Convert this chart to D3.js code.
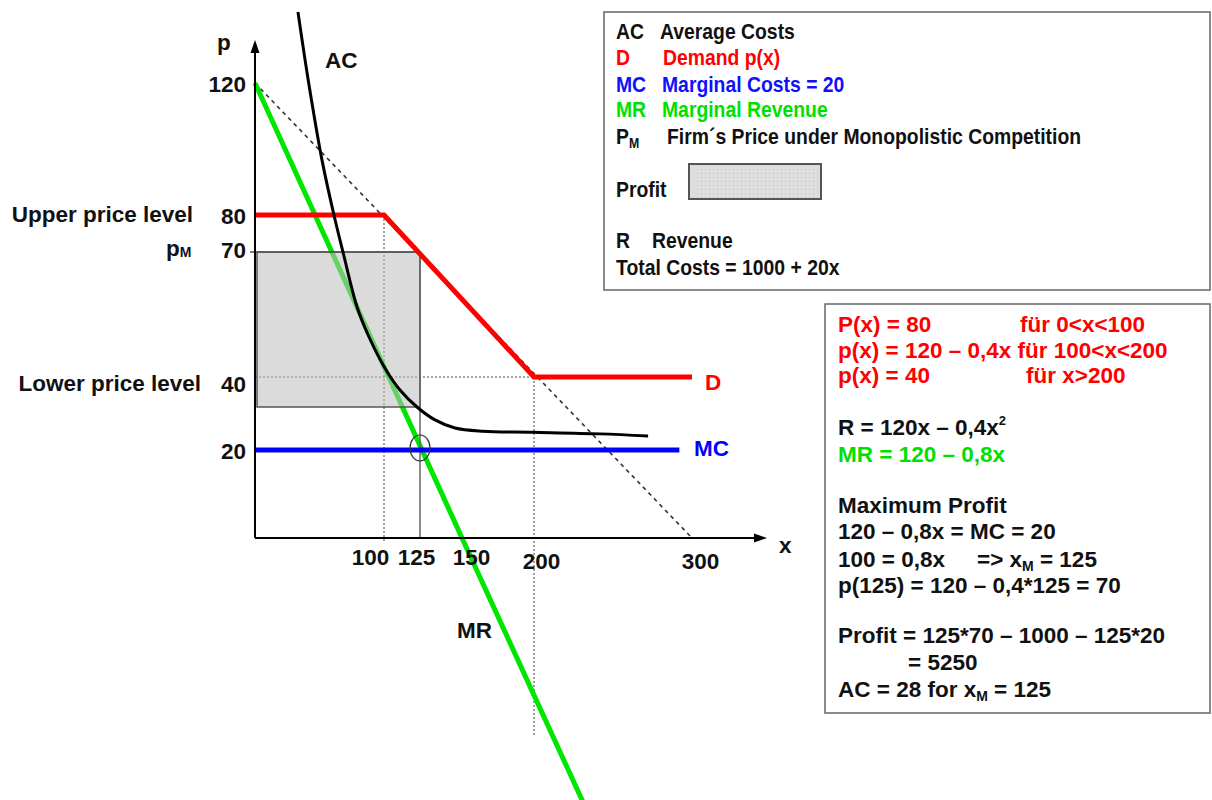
<!DOCTYPE html>
<html><head><meta charset="utf-8">
<script src="https://cdn.jsdelivr.net/npm/d3@7"></script>
<style>
body{margin:0;background:#fff}
svg{display:block}
text{font-family:"Liberation Sans",Arial,sans-serif;font-weight:bold}
</style></head><body>
<svg id="c" width="1212" height="800"></svg>
<script>
// ---------- data ----------
const xTicks = [100, 125, 150, 200, 300];
const yTicks = [20, 40, 70, 80, 120];
const demand = [[0, 80], [100, 80], [200, 40], [300, 40]];
const inverseDemand = [[0, 120], [300, 0]];
const marginalRevenue = [[0, 120], [150, 0], [231, -60]];
const marginalCost = [[0, 20], [292, 20]];
const averageCost = [[33.3, 141.5], [38.8, 127], [43.8, 114.8], [51.9, 96.7], [61.2, 80], [68.2, 70],
  [79.1, 56.8], [88.4, 49.6], [101.4, 41.7], [111.1, 34.8], [122.9, 28], [133.9, 25.6], [145.8, 24.1],
  [164.6, 23.5], [199.3, 23.3], [241.8, 23.0], [272.2, 22.6]];
const xM = 125, pM = 70, acM = 28, mc = 20;
const upperPrice = 80, lowerPrice = 40, upperKinkX = 100, lowerKinkX = 200, dropEnd = -45;
const legendKeys = ["AC", "D", "MC", "MR", "P"];
const legendTexts = ["Average Costs", "Demand p(x)", "Marginal Costs = 20", "Marginal Revenue", "Firm´s  Price under Monopolistic Competition"];

// ---------- scales (schematic, piecewise) ----------
const x = d3.scaleLinear().domain([0, 100, 125, 150, 200, 300]).range([255, 384, 420, 462, 534, 692]);
const y = d3.scaleLinear().domain([0, 20, 28, 40, 70, 80, 120]).range([538, 450, 407, 377, 252, 215, 83]);

const svg = d3.select("#c");
const line = d3.line().x(d => x(d[0])).y(d => y(d[1]));
const FS = 22.5;

svg.append("defs").append("pattern").attr("id", "dots").attr("width", 4).attr("height", 4)
  .attr("patternUnits", "userSpaceOnUse")
  .call(p => {
    p.append("rect").attr("width", 4).attr("height", 4).attr("fill", "#dedede");
    p.append("rect").attr("x", 1).attr("y", 1).attr("width", 1).attr("height", 1).attr("fill", "#c4c4c4");
  });

// dotted guide lines
const g = svg.append("g");
g.append("line").attr("x1", x(upperKinkX)).attr("x2", x(upperKinkX)).attr("y1", y(upperPrice)).attr("y2", y(0) + 4)
  .attr("stroke", "#444").attr("stroke-width", 1).attr("stroke-dasharray", "2,2");
g.append("line").attr("x1", x(lowerKinkX)).attr("x2", x(lowerKinkX)).attr("y1", y(lowerPrice)).attr("y2", y(dropEnd))
  .attr("stroke", "#444").attr("stroke-width", 1).attr("stroke-dasharray", "2,2");
g.append("line").attr("x1", x(0)).attr("x2", x(lowerKinkX)).attr("y1", y(lowerPrice)).attr("y2", y(lowerPrice))
  .attr("stroke", "#444").attr("stroke-width", 1).attr("stroke-dasharray", "2,2");

// inverse demand dashed
g.append("path").attr("d", line(inverseDemand)).attr("fill", "none").attr("stroke", "#333")
  .attr("stroke-width", 1.6).attr("stroke-dasharray", "4,4");

// MR
g.append("path").attr("d", line(marginalRevenue)).attr("fill", "none").attr("stroke", "#00e600").attr("stroke-width", 5);

// profit box
g.append("rect").attr("x", x(0) + 2).attr("y", y(pM)).attr("width", x(xM) - x(0) - 2).attr("height", y(acM) - y(pM))
  .attr("fill", "#bdbdbd").attr("fill-opacity", 0.55).attr("stroke", "#555").attr("stroke-width", 1.5);
g.append("line").attr("x1", x(0) - 5).attr("x2", x(xM)).attr("y1", y(pM)).attr("y2", y(pM)).attr("stroke", "#555").attr("stroke-width", 1.5);
g.append("line").attr("x1", x(xM)).attr("x2", x(xM)).attr("y1", y(pM)).attr("y2", y(0)).attr("stroke", "#666").attr("stroke-width", 1.5);

// demand
g.append("path").attr("d", line(demand)).attr("fill", "none").attr("stroke", "#ff0000").attr("stroke-width", 5);
// MC
g.append("path").attr("d", line(marginalCost)).attr("fill", "none").attr("stroke", "#0000ff").attr("stroke-width", 5);
// AC
g.append("path").attr("d", d3.line().x(d => x(d[0])).y(d => y(d[1])).curve(d3.curveCatmullRom.alpha(0.5))(averageCost))
  .attr("fill", "none").attr("stroke", "#000").attr("stroke-width", 3);

// ellipse at optimum
g.append("ellipse").attr("cx", x(xM)).attr("cy", y(mc) - 2).attr("rx", 10).attr("ry", 13)
  .attr("fill", "none").attr("stroke", "#333").attr("stroke-width", 1.2);

// axes
g.append("line").attr("x1", x(0)).attr("x2", x(0)).attr("y1", y(0)).attr("y2", 50).attr("stroke", "#000").attr("stroke-width", 2);
g.append("path").attr("d", `M${x(0)},40 L${x(0) - 4.5},53 L${x(0) + 4.5},53 Z`).attr("fill", "#000");
g.append("line").attr("x1", x(0)).attr("x2", 756).attr("y1", y(0)).attr("y2", y(0)).attr("stroke", "#000").attr("stroke-width", 2);
g.append("path").attr("d", `M767,${y(0)} L754,${y(0) - 4.5} L754,${y(0) + 4.5} Z`).attr("fill", "#000");

// tick labels
const yShift = {40: 6, 70: -3};
const yAx = svg.append("g").attr("transform", `translate(${x(0) - 9},0)`)
  .call(d3.axisLeft(y).tickValues(yTicks).tickSize(0).tickPadding(0));
yAx.select(".domain").remove();
yAx.selectAll("text").attr("font-size", FS).attr("font-family", null).attr("fill", "#111").attr("dy", "0.36em")
  .attr("y", d => yShift[d] || 0);
const xShift = {100: -14, 125: -4, 150: 9, 200: 7, 300: 8};
const xDrop = {200: 4, 300: 4};
const xAx = svg.append("g").attr("transform", `translate(0,${y(0) + 8})`)
  .call(d3.axisBottom(x).tickValues(xTicks).tickSize(0).tickPadding(0));
xAx.select(".domain").remove();
xAx.selectAll("text").attr("font-size", FS).attr("font-family", null).attr("fill", "#111").attr("dy", "0.85em")
  .attr("x", d => xShift[d] || 0).attr("y", d => xDrop[d] || 0);

function txt(px, py, s, color, anchor) {
  return svg.append("text").attr("x", px).attr("y", py).attr("font-size", FS)
    .attr("fill", color || "#111").attr("text-anchor", anchor || "start").text(s);
}
function ctxt(px, py, s, color) {
  return svg.append("text").attr("transform", `translate(${px},${py}) scale(0.88,1)`).attr("font-size", 22)
    .attr("fill", color || "#111").text(s);
}
txt(217, 50, "p");
txt(779, 553, "x");
txt(325, 68, "AC");
txt(457, 638, "MR");
txt(705, 390, "D", "#ff0000");
txt(694, 456, "MC", "#0000ff");
txt(193, y(upperPrice) + 7, "Upper price level", null, "end");
txt(201, y(lowerPrice) + 14, "Lower price level", null, "end");
const pm = txt(166, y(pM) + 4, "p");
pm.append("tspan").attr("font-size", 14).attr("dy", 1).text("M");

// legend box 1
svg.append("rect").attr("x", 604).attr("y", 12).attr("width", 606).attr("height", 278)
  .attr("fill", "#fff").attr("stroke", "#666").attr("stroke-width", 1.5);
const legColors = ["#111", "#ff0000", "#1010ff", "#00e000", "#111"];
const legBase = [39, 65, 92, 117, 144];
const legDescX = [660, 663, 662, 662, 667];
legendKeys.forEach((k, i) => {
  const t = ctxt(616, legBase[i], k, legColors[i]);
  if (k === "P") t.append("tspan").attr("font-size", 14).attr("dy", 4).text("M");
  ctxt(legDescX[i], legBase[i], legendTexts[i], legColors[i]);
});
ctxt(616, 197, "Profit");
svg.append("rect").attr("x", 689).attr("y", 164).attr("width", 132).attr("height", 35)
  .attr("fill", "url(#dots)").attr("stroke", "#555").attr("stroke-width", 2);
ctxt(616, 248, "R");
ctxt(652, 248, "Revenue");
ctxt(616, 275, "Total Costs = 1000 + 20x");

// box 2
svg.append("rect").attr("x", 825).attr("y", 304).attr("width", 385).attr("height", 409)
  .attr("fill", "#fff").attr("stroke", "#666").attr("stroke-width", 1.5);
const L = 838;
txt(L, 332, "P(x) = 80", "#ff0000");
txt(1020, 332, "für 0<x<100", "#ff0000");
txt(L, 358, "p(x) = 120 – 0,4x für 100<x<200", "#ff0000");
txt(L, 383, "p(x) = 40", "#ff0000");
txt(1026, 383, "für x>200", "#ff0000");
const r = txt(L, 435, "R = 120x – 0,4x");
r.append("tspan").attr("font-size", 13).attr("dy", -10).text("2");
txt(L, 462, "MR = 120 – 0,8x", "#00e000");
txt(L, 513, "Maximum Profit");
txt(L, 539, "120 – 0,8x = MC = 20");
txt(L, 567, "100 = 0,8x");
const a = txt(977, 567, "=>  x");
a.append("tspan").attr("font-size", 14).attr("dy", 4).text("M");
a.append("tspan").attr("dy", -4).text(" = 125");
txt(L, 593, "p(125) = 120 – 0,4*125 = 70");
txt(L, 643, "Profit = 125*70 – 1000 – 125*20");
txt(908, 670, "= 5250");
const ac = txt(L, 697, "AC = 28 for x");
ac.append("tspan").attr("font-size", 14).attr("dy", 4).text("M");
ac.append("tspan").attr("dy", -4).text(" = 125");
</script></body></html>
